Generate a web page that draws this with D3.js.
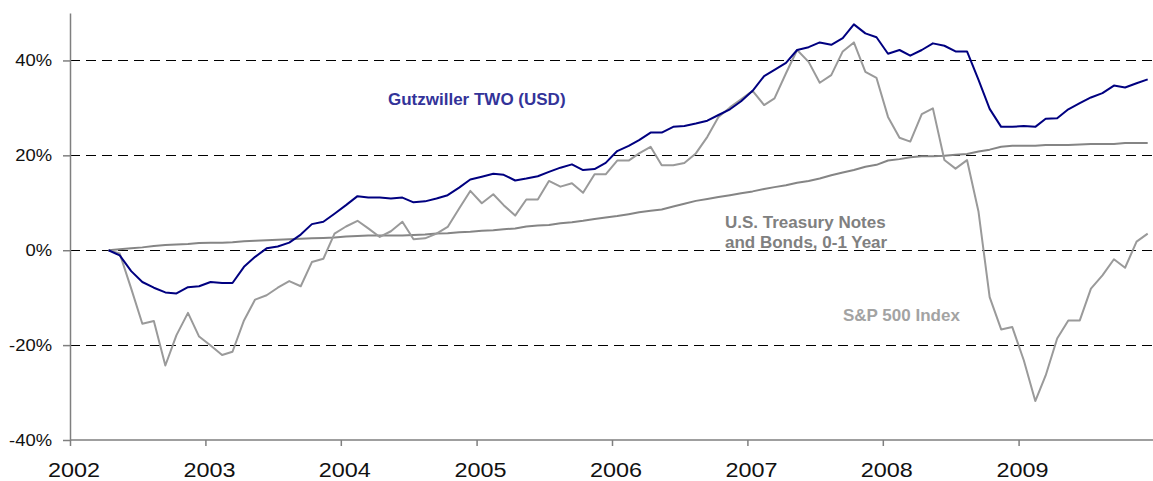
<!DOCTYPE html>
<html>
<head>
<meta charset="utf-8">
<script src="https://cdn.jsdelivr.net/npm/d3@7"></script>
<style>
  html, body { margin: 0; padding: 0; background: #fff; }
  svg { display: block; font-family: "Liberation Sans", Arial, sans-serif; }
</style>
</head>
<body>
<svg id="chart" width="1153" height="481"></svg>
<script>
// ---- Data (cumulative return, %), monthly from Apr 2002 to Dec 2009 ----
const startYear = 2002;
const startMonth = 3; // April (0-based)

const gutzwiller = [
  0, -1.1, -4.4, -6.7, -7.9, -8.9, -9.1, -7.8, -7.6, -6.7, -6.9, -6.9,
  -3.5, -1.4, 0.4, 0.8, 1.6, 3.3, 5.5, 6.0, 7.7, 9.5, 11.4, 11.1,
  11.1, 10.9, 11.1, 10.1, 10.3, 10.9, 11.6, 13.2, 14.9, 15.5, 16.1, 15.9,
  14.7, 15.1, 15.6, 16.5, 17.4, 18.1, 16.9, 17.1, 18.4, 20.9, 22.0, 23.2,
  24.8, 24.8, 26.0, 26.2, 26.7, 27.3, 28.5, 29.7, 31.4, 33.6, 36.7, 38.0,
  39.5, 42.2, 42.8, 43.8, 43.3, 44.7, 47.6, 45.7, 44.9, 41.4, 42.2, 41.0,
  42.2, 43.6, 43.1, 41.9, 41.9, 35.9, 29.8, 26.0, 26.0, 26.2, 26.0, 27.7,
  27.8, 29.7, 31.0, 32.2, 33.1, 34.7, 34.3, 35.2, 36.0
];

const sp500 = [
  0, -0.7, -8.1, -15.5, -14.9, -24.3, -17.9, -13.2, -18.2, -20.1, -22.1, -21.4,
  -14.8, -10.4, -9.5, -7.9, -6.5, -7.6, -2.5, -1.8, 3.5, 5.0, 6.2, 4.6,
  2.8, 4.0, 6.0, 2.3, 2.5, 3.5, 4.9, 8.8, 12.5, 9.9, 11.8, 9.5,
  7.3, 10.7, 10.7, 14.6, 13.4, 14.1, 12.1, 16.0, 16.0, 18.9, 18.9, 20.4,
  21.8, 17.9, 17.9, 18.4, 20.4, 23.9, 28.1, 30.1, 31.8, 33.6, 30.6, 32.0,
  37.3, 42.2, 39.7, 35.3, 36.9, 41.9, 43.8, 37.6, 36.3, 28.1, 23.7, 22.9,
  28.7, 29.9, 19.0, 17.2, 19.0, 8.1, -9.9, -16.7, -16.2, -23.2, -31.8, -26.4,
  -18.6, -14.8, -14.8, -8.1, -5.3, -1.9, -3.7, 1.8, 3.5
];

const treasury = [
  0, 0.2, 0.4, 0.6, 0.9, 1.1, 1.2, 1.3, 1.5, 1.6, 1.6, 1.7,
  1.9, 2.0, 2.1, 2.2, 2.3, 2.4, 2.5, 2.6, 2.7, 2.9, 3.0, 3.1,
  3.1, 3.1, 3.1, 3.2, 3.3, 3.5, 3.6, 3.8, 3.9, 4.1, 4.2, 4.4,
  4.6, 5.0, 5.2, 5.3, 5.7, 5.9, 6.2, 6.6, 6.9, 7.2, 7.6, 8.0,
  8.3, 8.6, 9.2, 9.8, 10.4, 10.8, 11.2, 11.6, 12.0, 12.4, 12.9, 13.3,
  13.7, 14.2, 14.6, 15.1, 15.8, 16.4, 16.9, 17.6, 18.0, 18.9, 19.2, 19.6,
  19.8, 19.8, 19.9, 20.1, 20.3, 20.8, 21.2, 21.8, 22.0, 22.0, 22.0, 22.2,
  22.2, 22.2, 22.3, 22.4, 22.4, 22.4, 22.6, 22.6, 22.6
];

const yTicks = [-40, -20, 0, 20, 40];
const gridValues = [-20, 0, 20, 40];
const xTickYears = [2002, 2003, 2004, 2005, 2006, 2007, 2008, 2009];

const seriesNames = ["Gutzwiller TWO (USD)", "U.S. Treasury Notes", "and Bonds, 0-1 Year", "S&P 500 Index"];

// ---- Layout ----
const svg = d3.select("#chart");
const plotLeft = 70, plotRight = 1154, plotTop = 13, plotBottom = 440;

const x = d3.scaleTime()
  .domain([new Date(2002, 0, 1), new Date(2010, 0, 1)])
  .range([plotLeft, plotRight]);
const y = d3.scaleLinear().domain([-40, 50]).range([plotBottom, plotTop]);

const dates = gutzwiller.map((_, i) => new Date(startYear, startMonth + i, 15));

// ---- Gridlines ----
svg.append("g").selectAll("line").data(gridValues).join("line")
  .attr("x1", plotLeft).attr("x2", 1153)
  .attr("y1", d => Math.round(y(d)) + 0.5).attr("y2", d => Math.round(y(d)) + 0.5)
  .attr("stroke", "#000").attr("stroke-width", 1)
  .attr("shape-rendering", "crispEdges")
  .attr("stroke-dasharray", "10,6");

// ---- Axes ----
const yAxis = d3.axisLeft(y).tickValues(yTicks).tickSize(7).tickSizeOuter(0).tickFormat("");
const yg = svg.append("g").attr("transform", `translate(${plotLeft},0)`).call(yAxis);
yg.select(".domain").attr("stroke", "#7f7f7f").attr("stroke-width", 1.5);
yg.selectAll(".tick line").attr("stroke", "#7f7f7f").attr("stroke-width", 1.5);

const xAxis = d3.axisBottom(x)
  .tickValues(xTickYears.map(yr => new Date(yr, 0, 1)))
  .tickSize(6).tickSizeOuter(0).tickFormat("");
const xg = svg.append("g").attr("transform", `translate(0,${plotBottom})`).call(xAxis);
xg.select(".domain").attr("stroke", "#7f7f7f").attr("stroke-width", 1.5)
  .attr("d", `M${plotLeft},0H1153`);
xg.selectAll(".tick line").attr("stroke", "#7f7f7f").attr("stroke-width", 1.5);

// y labels
svg.append("g").selectAll("text").data(yTicks).join("text")
  .attr("transform", d => `translate(52,${y(d)}) scale(1.15,1)`)
  .attr("text-anchor", "end").attr("dy", "0.36em")
  .attr("font-size", "16px").attr("fill", "#111")
  .text(d => d + "%");

// x labels
svg.append("g").selectAll("text").data(xTickYears).join("text")
  .attr("transform", d => `translate(${x(new Date(d, 0, 1)) + 4},477) scale(1.2,1)`)
  .attr("text-anchor", "middle")
  .attr("font-size", "19.5px").attr("fill", "#111")
  .text(d => d);

// ---- Lines ----
const line = d3.line().x((d, i) => x(dates[i])).y(d => y(d));

svg.append("path").datum(treasury)
  .attr("fill", "none").attr("stroke", "#858585").attr("stroke-width", 2)
  .attr("stroke-linejoin", "round").attr("d", line);
svg.append("path").datum(sp500)
  .attr("fill", "none").attr("stroke", "#9a9a9a").attr("stroke-width", 2)
  .attr("stroke-linejoin", "round").attr("d", line);
svg.append("path").datum(gutzwiller)
  .attr("fill", "none").attr("stroke", "#000080").attr("stroke-width", 2)
  .attr("stroke-linejoin", "round").attr("d", line);

// ---- Series labels ----
const labels = [
  { t: seriesNames[0], x: 388, y: 105, c: "#333399" },
  { t: seriesNames[1], x: 725, y: 228, c: "#808080" },
  { t: seriesNames[2], x: 725, y: 248, c: "#808080" },
  { t: seriesNames[3], x: 843, y: 321, c: "#a3a3a3" }
];
svg.append("g").selectAll("text").data(labels).join("text")
  .attr("x", d => d.x).attr("y", d => d.y)
  .attr("font-size", "17px").attr("font-weight", "bold")
  .attr("fill", d => d.c)
  .text(d => d.t);
</script>
</body>
</html>
